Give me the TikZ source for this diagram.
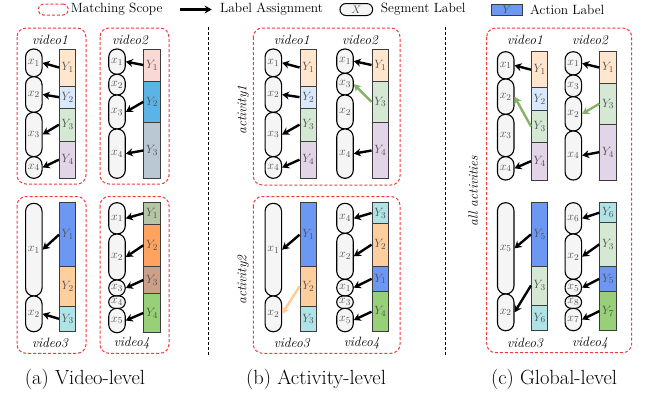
\documentclass[tikz,border=0pt]{standalone}
\usetikzlibrary{arrows.meta}
\definecolor{peach}{HTML}{FFE6CC}
\definecolor{lblue}{HTML}{DAE8FC}
\definecolor{lgreen}{HTML}{D5E8D4}
\definecolor{lpurple}{HTML}{E1D5E7}
\definecolor{pinkc}{HTML}{FAD9D5}
\definecolor{mblue}{HTML}{5BB4E8}
\definecolor{grayblue}{HTML}{BAC8D3}
\definecolor{blueb}{HTML}{6C97F2}
\definecolor{lorange}{HTML}{FFCE9F}
\definecolor{cyanb}{HTML}{B0E3E6}
\definecolor{sage}{HTML}{B4C6A6}
\definecolor{orangeb}{HTML}{FFA35F}
\definecolor{brownb}{HTML}{CC9F88}
\definecolor{greenb}{HTML}{97D077}
\definecolor{arrgreen}{HTML}{82B366}
\definecolor{arrorange}{HTML}{FFCC99}
\definecolor{scopered}{HTML}{F23A3A}
\definecolor{ovalfill}{HTML}{F5F5F5}
\definecolor{bardraw}{HTML}{3C3C3C}
\definecolor{labgray}{HTML}{505050}
\newcommand\lblfont{\fontsize{12.5}{13}\selectfont}
\newcommand\ttlfont{\fontsize{13.5}{15}\selectfont\itshape}
\newcommand\legfont{\fontsize{13.4}{15}\selectfont}
\newcommand\capfont{\fontsize{20.5}{24}\selectfont}
\tikzset{
  segl/.style={draw=black, line width=1.1pt, fill=ovalfill, minimum width=16.5pt, inner sep=0pt, font=\lblfont, text=labgray},
  bseg/.style={draw=bardraw, line width=1pt, minimum width=16.5pt, inner sep=0pt, font=\lblfont, text=labgray},
  asg/.style={line width=2.4pt, -{Stealth[length=7pt,width=8pt]}, draw=black},
  asggreen/.style={asg, draw=arrgreen},
  asgorange/.style={asg, draw=arrorange},
  scopebox/.style={draw=scopered, dash pattern=on 3pt off 2pt, line width=1pt, rounded corners=9pt},
  sepline/.style={draw=black, dash pattern=on 3pt off 2pt, line width=0.8pt},
  ttl/.style={font=\ttlfont, inner sep=0pt},
  legtxt/.style={font=\legfont, anchor=west, inner sep=0pt},
  captxt/.style={font=\capfont, inner sep=0pt}
}
% oval segment: name, xc, top, bottom, index
\newcommand\ov[5]{%
  \pgfmathsetmacro\myovh{#4-#3}%
  \pgfmathsetmacro\myovr{min(8,(#4-#3)/2-0.2)}%
  \node[segl, minimum height=\myovh pt, rounded corners=\myovr pt] (#1) at (#2,{(#3+#4)/2}) {$x_{#5}$};}
% bar segment: name, xc, top, bottom, colour, index
\newcommand\bs[6]{%
  \pgfmathsetmacro\mybsh{#4-#3}%
  \node[bseg, fill=#5, minimum height=\mybsh pt] (#1) at (#2,{(#3+#4)/2}) {$Y_{#6}$};}
\begin{document}
\begin{tikzpicture}[x=1pt,y=-1pt]
\useasboundingbox (0,0) rectangle (646,394);

% ---------- legend ----------
\node[scopebox, rounded corners=5pt, minimum width=30pt, minimum height=11pt, inner sep=0pt] (legscope) at (53.3,9.5) {};
\node[legtxt] (legscopet) at (70.7,9.5) {Matching Scope};
\coordinate (legas) at (180,9.5);
\coordinate (legae) at (211.7,9.5);
\draw[asg] (legas) -- (legae);
\node[legtxt] (legassign) at (220,9.5) {Label Assignment};
\node[draw=black, line width=1pt, fill=ovalfill, minimum width=32.7pt, minimum height=12pt, rounded corners=6pt, inner sep=0pt, font=\fontsize{11}{12}\selectfont, text=labgray] (legoval) at (356.3,9.5) {$X$};
\node[legtxt] (legsegt) at (380.7,9.5) {Segment Label};
\node[draw=bardraw, line width=1pt, fill=blueb, minimum width=30.6pt, minimum height=11pt, inner sep=0pt, font=\fontsize{11}{12}\selectfont, text=labgray] (legbar) at (507,9.5) {$Y$};
\node[legtxt] (legactt) at (530,9.5) {Action Label};

% ---------- separators ----------
\coordinate (sepAt) at (208,27);
\coordinate (sepAb) at (208,355);
\coordinate (sepBt) at (445,27);
\coordinate (sepBb) at (445,355);
\draw[sepline] (sepAt) -- (sepAb);
\draw[sepline] (sepBt) -- (sepBb);

% ================= (a) Video-level =================
\draw[scopebox] (17,28) rectangle (86,184);
\draw[scopebox] (100,28) rectangle (169,184);
\draw[scopebox] (17,196.5) rectangle (86,353.3);
\draw[scopebox] (100,196.5) rectangle (169,353.3);
\node[ttl] (taV1) at (50,40) {video1};
\node[ttl] (taV2) at (130,40) {video2};
\node[ttl] (taV3) at (50,343.3) {video3};
\node[ttl] (taV4) at (131.7,343.3) {video4};

% a video1
\ov{aAo1}{33.8}{49}{76.7}{1}
\ov{aAo2}{33.8}{76.7}{112.3}{2}
\ov{aAo3}{33.8}{112.3}{156.7}{3}
\ov{aAo4}{33.8}{156.7}{178.3}{4}
\bs{aAb1}{67.7}{49}{86}{peach}{1}
\bs{aAb2}{67.7}{86}{108.3}{lblue}{2}
\bs{aAb3}{67.7}{108.3}{141}{lgreen}{3}
\bs{aAb4}{67.7}{141}{178.3}{lpurple}{4}
\draw[asg] (aAb1.west) -- (aAo1.east);
\draw[asg] (aAb2.west) -- (aAo2.east);
\draw[asg] (aAb3.west) -- (aAo3.east);
\draw[asg] (aAb4.west) -- (aAo4.east);

% a video2
\ov{aBo1}{117}{49}{74.3}{1}
\ov{aBo2}{117}{74.3}{95}{2}
\ov{aBo3}{117}{95}{129}{3}
\ov{aBo4}{117}{129}{178.3}{4}
\bs{aBb1}{152}{49}{81}{pinkc}{1}
\bs{aBb2}{152}{81}{122.7}{mblue}{2}
\bs{aBb3}{152}{122.7}{178.3}{grayblue}{3}
\draw[asg] (aBb1.west) -- (aBo1.east);
\draw[asg] (aBb2.west) -- (aBo3.east);
\draw[asg] (aBb3.west) -- (aBo4.east);

% a video3
\ov{aCo1}{33.8}{203.3}{296}{1}
\ov{aCo2}{33.8}{296}{331.7}{2}
\bs{aCb1}{67.7}{202.7}{266.7}{blueb}{1}
\bs{aCb2}{67.7}{266.7}{306}{lorange}{2}
\bs{aCb3}{67.7}{306}{331.7}{cyanb}{3}
\draw[asg] (aCb1.west) -- (aCo1.east);
\draw[asg] (aCb3.west) -- (aCo2.east);

% a video4
\ov{aDo1}{117}{202.7}{234}{1}
\ov{aDo2}{117}{234}{280}{2}
\ov{aDo3}{117}{280}{296}{3}
\ov{aDo4}{117}{296}{308.3}{4}
\ov{aDo5}{117}{308.3}{332.7}{5}
\bs{aDb1}{152}{202.7}{224}{sage}{1}
\bs{aDb2}{152}{224}{266.7}{orangeb}{2}
\bs{aDb3}{152}{266.7}{293.3}{brownb}{3}
\bs{aDb4}{152}{293.3}{332.7}{greenb}{4}
\draw[asg] (aDb1.west) -- (aDo1.east);
\draw[asg] (aDb2.west) -- (aDo2.east);
\draw[asg] (aDb3.west) -- (aDo3.east);
\draw[asg] (aDb4.west) -- (aDo5.east);

% ================= (b) Activity-level =================
\draw[scopebox] (253.3,28) rectangle (400,185);
\draw[scopebox] (253.3,196.5) rectangle (400,353.3);
\node[ttl, rotate=90] (tAct1) at (243.3,110) {activity1};
\node[ttl, rotate=90] (tAct2) at (243.3,280) {activity2};
\node[ttl] (tbV1) at (291.7,40) {video1};
\node[ttl] (tbV2) at (360,40) {video2};
\node[ttl] (tbV3) at (291.7,343.3) {video3};
\node[ttl] (tbV4) at (361.7,343.3) {video4};

% b video1
\ov{bAo1}{273.3}{49}{76.7}{1}
\ov{bAo2}{273.3}{76.7}{112.3}{2}
\ov{bAo3}{273.3}{112.3}{156.7}{3}
\ov{bAo4}{273.3}{156.7}{178.3}{4}
\bs{bAb1}{308.3}{49}{86}{peach}{1}
\bs{bAb2}{308.3}{86}{108.3}{lblue}{2}
\bs{bAb3}{308.3}{108.3}{141}{lgreen}{3}
\bs{bAb4}{308.3}{141}{178.3}{lpurple}{4}
\draw[asg] (bAb1.west) -- (bAo1.east);
\draw[asg] (bAb2.west) -- (bAo2.east);
\draw[asg] (bAb3.west) -- (bAo3.east);
\draw[asg] (bAb4.west) -- (bAo4.east);

% b video2
\ov{bBo1}{345}{49}{73.3}{1}
\ov{bBo3}{345}{73.3}{95}{3}
\ov{bBo2}{345}{95}{129}{2}
\ov{bBo4}{345}{129}{178.3}{4}
\bs{bBb1}{380.3}{49}{81}{peach}{1}
\bs{bBb3}{380.3}{81}{122.7}{lgreen}{3}
\bs{bBb4}{380.3}{122.7}{178.3}{lpurple}{4}
\draw[asg] (bBb1.west) -- (bBo1.east);
\draw[asggreen] (bBb3.west) -- (bBo3.east);
\draw[asg] (bBb4.west) -- (bBo4.east);

% b video3
\ov{bCo1}{273.3}{203.3}{296}{1}
\ov{bCo2}{273.3}{296}{331.7}{2}
\bs{bCb1}{308.3}{202.7}{266.7}{blueb}{1}
\bs{bCb2}{308.3}{266.7}{306}{lorange}{2}
\bs{bCb3}{308.3}{306}{331.7}{cyanb}{3}
\draw[asg] (bCb1.west) -- (bCo1.east);
\draw[asgorange] (bCb2.west) -- (bCo2.east);

% b video4
\ov{bDo4}{345}{203.3}{233.3}{4}
\ov{bDo2}{345}{233.3}{279.3}{2}
\ov{bDo1}{345}{279.3}{296}{1}
\ov{bDo3}{345}{296}{308.3}{3}
\ov{bDo5}{345}{308.3}{331.7}{5}
\bs{bDb3}{380.3}{202.7}{223.3}{cyanb}{3}
\bs{bDb2}{380.3}{223.3}{266}{lorange}{2}
\bs{bDb1}{380.3}{266}{291.7}{blueb}{1}
\bs{bDb4}{380.3}{291.7}{331.7}{greenb}{4}
\draw[asg] (bDb3.west) -- (bDo4.east);
\draw[asg] (bDb2.west) -- (bDo2.east);
\draw[asg] (bDb1.west) -- (bDo1.east);
\draw[asg] (bDb4.west) -- (bDo5.east);

% ================= (c) Global-level =================
\draw[scopebox] (486.7,28) rectangle (631.7,352.7);
\node[ttl, rotate=90] (tAll) at (473.3,191) {all activities};
\node[ttl] (tcV1) at (525,40) {video1};
\node[ttl] (tcV2) at (590,40) {video2};
\node[ttl] (tcV3) at (525,343.3) {video3};
\node[ttl] (tcV4) at (590,343.3) {video4};

% c video1
\ov{cAo1}{505.7}{51.7}{79}{1}
\ov{cAo2}{505.7}{79}{114.3}{2}
\ov{cAo3}{505.7}{114.3}{156.7}{3}
\ov{cAo4}{505.7}{156.7}{180}{4}
\bs{cAb1}{539.7}{51.7}{87.7}{peach}{1}
\bs{cAb2}{539.7}{87.7}{110.3}{lblue}{2}
\bs{cAb3}{539.7}{110.3}{142.3}{lgreen}{3}
\bs{cAb4}{539.7}{142.3}{180}{lpurple}{4}
\draw[asg] (cAb1.west) -- (cAo1.east);
\draw[asggreen] (cAb3.west) -- (cAo2.east);
\draw[asg] (cAb4.west) -- (cAo4.east);

% c video2
\ov{cBo1}{573.3}{51.7}{75}{1}
\ov{cBo3}{573.3}{75}{96.7}{3}
\ov{cBo2}{573.3}{96.7}{131}{2}
\ov{cBo4}{573.3}{131}{180}{4}
\bs{cBb1}{608}{51.7}{83.3}{peach}{1}
\bs{cBb3}{608}{83.3}{124.3}{lgreen}{3}
\bs{cBb4}{608}{124.3}{180}{lpurple}{4}
\draw[asg] (cBb1.west) -- (cBo1.east);
\draw[asggreen] (cBb3.west) -- (cBo2.east);
\draw[asg] (cBb4.west) -- (cBo4.east);

% c video3
\ov{cCo5}{505.7}{202.7}{294}{5}
\ov{cCo2}{505.7}{294}{330.7}{2}
\bs{cCb5}{539.7}{202.7}{266}{blueb}{5}
\bs{cCb3}{539.7}{266}{305}{lgreen}{3}
\bs{cCb6}{539.7}{305}{330.7}{cyanb}{6}
\draw[asg] (cCb5.west) -- (cCo5.east);
\draw[asg] (cCb3.west) -- (cCo2.east);

% c video4
\ov{cDo6}{573.3}{202.7}{234}{6}
\ov{cDo2}{573.3}{234}{279.3}{2}
\ov{cDo5}{573.3}{279.3}{296}{5}
\ov{cDo8}{573.3}{296}{308.3}{8}
\ov{cDo7}{573.3}{308.3}{330.7}{7}
\bs{cDb6}{608}{202.7}{222.7}{cyanb}{6}
\bs{cDb3}{608}{222.7}{266}{lgreen}{3}
\bs{cDb5}{608}{266}{291.7}{blueb}{5}
\bs{cDb7}{608}{291.7}{330.7}{greenb}{7}
\draw[asg] (cDb6.west) -- (cDo6.east);
\draw[asg] (cDb3.west) -- (cDo2.east);
\draw[asg] (cDb5.west) -- (cDo5.east);
\draw[asg] (cDb7.west) -- (cDo7.east);

% ---------- captions ----------
\node[captxt] (capA) at (85,379) {(a) Video-level};
\node[captxt] (capB) at (316,379) {(b) Activity-level};
\node[captxt] (capC) at (554,379) {(c) Global-level};
\end{tikzpicture}
\end{document}
